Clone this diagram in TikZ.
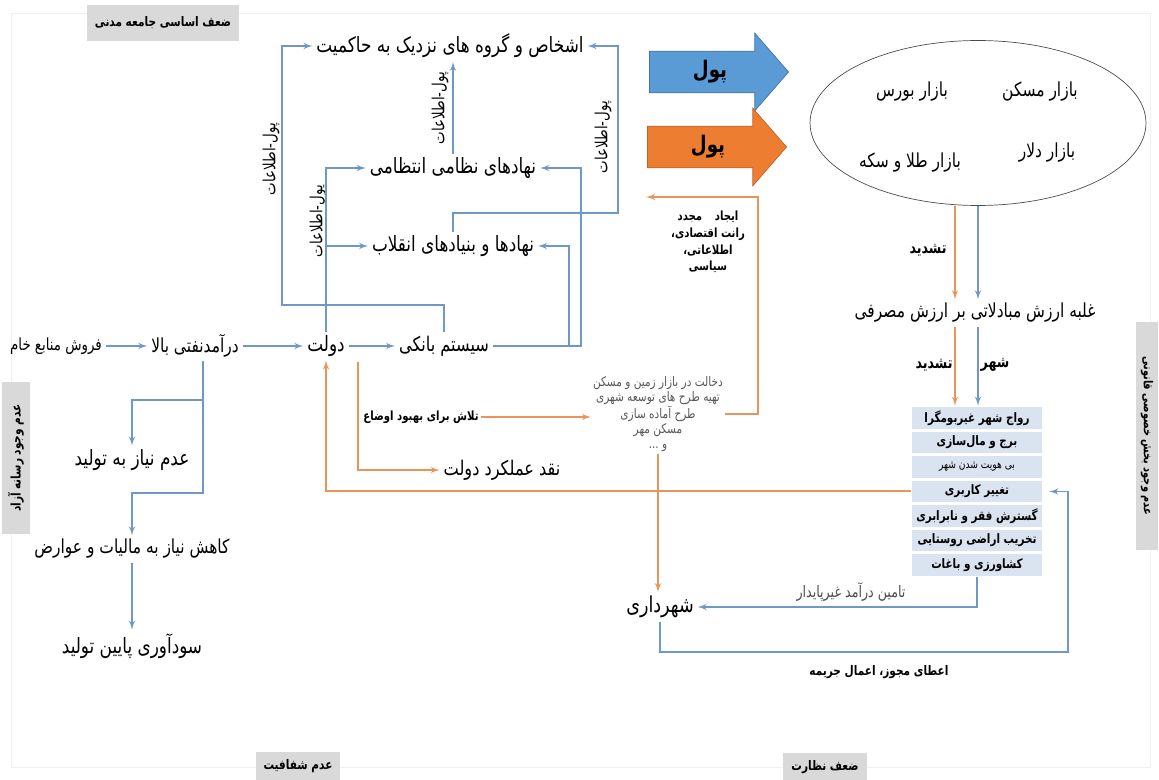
\documentclass[tikz,border=0pt]{standalone}
\usepackage{fontspec}
\newfontfamily\farsi[Script=Arabic, FakeStretch=0.8]{DejaVu Sans}
\TeXXeTstate=1
\usetikzlibrary{shapes,arrows,positioning}
\newcommand{\fa}[1]{{\farsi\beginR #1\endR}}
\newcommand{\pt}[1]{\fontsize{#1}{#1}\selectfont}
\definecolor{linkblue}{HTML}{7098C6}
\definecolor{linkorange}{HTML}{E8955C}
\definecolor{arrowblue}{HTML}{5B9BD5}
\definecolor{arroworange}{HTML}{ED7D31}
\definecolor{rowfill}{HTML}{DAE3F0}
\definecolor{tagfill}{HTML}{D9D9D9}

\begin{document}
\begin{tikzpicture}[x=0.02cm, y=-0.02cm]
        \tikzstyle{concept} = [font=\pt{12}, inner sep=2pt]
        \tikzstyle{note} = [font=\pt{7.5}, inner sep=1pt, align=center]
        \tikzstyle{side_tag} = [fill=tagfill, font=\pt{7.5}\bfseries, inner sep=1pt]
        \tikzstyle{via} = [font=\pt{9.5}, rotate=90, inner sep=1pt]
        \tikzstyle{money} = [single arrow, single arrow head extend=0.36cm, single arrow tip angle=98, minimum height=2.78cm, minimum width=1.46cm, inner ysep=0.18cm, font=\pt{13}\bfseries]
        \tikzstyle{city_row} = [fill=rowfill, draw=white, line width=0.8pt, minimum width=2.62cm, minimum height=0.462cm, inner sep=0pt, font=\pt{7.4}\bfseries]
        \tikzstyle{line} = [draw, -latex', linkblue, line width=0.8pt]
        \tikzstyle{line_orange} = [draw, -latex', linkorange, line width=0.8pt]

        \useasboundingbox (0,0) rectangle (1159,780);
        \draw [gray!12] (11,13) rectangle (1150,767);

        \node [side_tag, minimum width=3.04cm, minimum height=0.72cm] (tag_civil) at (163,23) {\fa{ضعف اساسی جامعه مدنی}};
        \node [side_tag, minimum width=1.7cm, minimum height=0.58cm] (tag_opacity) at (298,766) {\fa{عدم شفافیت}};
        \node [side_tag, minimum width=1.68cm, minimum height=0.56cm] (tag_control) at (825,767) {\fa{ضعف نظارت}};
        \node [side_tag, rotate=90, minimum width=3.06cm, minimum height=0.58cm] (tag_media) at (16,458) {\fa{عدم وجود رسانه آزاد}};
        \node [side_tag, rotate=-90, minimum width=4.56cm, minimum height=0.44cm, font=\pt{7}\bfseries] (tag_private) at (1147,436) {\fa{عدم وجود بخش خصوصی قانونی}};

        \node [concept, font=\pt{9.5}] (raw_sale) at (56,346) {\fa{فروش منابع خام}};
        \node [concept, font=\pt{11}] (oil_income) at (195,346) {\fa{درآمدنفتی بالا}};
        \node [concept] (state) at (326,346) {\fa{دولت}};
        \node [concept, font=\pt{11.5}] (bank_system) at (444,346) {\fa{سیستم بانکی}};
        \node [concept] (elite) at (450,46) {\fa{اشخاص و گروه های نزدیک به حاکمیت}};
        \node [concept] (military) at (453,168) {\fa{نهادهای نظامی انتظامی}};
        \node [concept] (revolution) at (453,246) {\fa{نهادها و بنیادهای انقلاب}};
        \node [concept] (no_production) at (132,460) {\fa{عدم نیاز به تولید}};
        \node [concept, font=\pt{11}] (low_tax) at (132,549) {\fa{کاهش نیاز به مالیات و عوارض}};
        \node [concept] (low_profit) at (132,646) {\fa{سودآوری پایین تولید}};
        \node [concept, font=\pt{11.5}] (critique) at (502,470) {\fa{نقد عملکرد دولت}};
        \node [concept, font=\pt{12.5}] (municipality) at (660,607) {\fa{شهرداری}};
        \node [concept, font=\pt{11}] (exchange_value) at (975,313) {\fa{غلبه ارزش مبادلاتی بر ارزش مصرفی}};

        \node [via] (via_left) at (271,159) {\fa{پول-اطلاعات}};
        \node [via] (via_mid) at (318,221) {\fa{پول-اطلاعات}};
        \node [via] (via_up) at (440,108) {\fa{پول-اطلاعات}};
        \node [via] (via_right) at (603,137) {\fa{پول-اطلاعات}};

        \node [draw=gray!60!black, ellipse, minimum width=6.72cm, minimum height=3.3cm] (markets) at (978,123) {};
        \node [concept, font=\pt{11}] (housing) at (1040,92) {\fa{بازار مسکن}};
        \node [concept, font=\pt{11}] (stock) at (912,92) {\fa{بازار بورس}};
        \node [concept, font=\pt{11}] (dollar) at (1047,153) {\fa{بازار دلار}};
        \node [concept, font=\pt{11}] (gold) at (910,163) {\fa{بازار طلا و سکه}};

        \node [money, fill=arrowblue, draw=arrowblue!75!black] (money_blue) at (710,72) {\fa{پول}};
        \node [money, fill=arroworange, draw=arroworange!80!black] (money_orange) at (708,147) {\fa{پول}};

        \node [note, font=\pt{7.2}\bfseries] (effort) at (421,417) {\fa{تلاش برای بهبود اوضاع}};
        \node [note, text=gray!70!black, font=\fontsize{7.5}{8.6}\selectfont] (intervention) at (658,414) {\fa{دخالت در بازار زمین و مسکن}\\ \fa{تهیه طرح های توسعه شهری}\\ \fa{طرح آماده سازی}\\ \fa{مسکن مهر}\\ \fa{و ...}};
        \node [note, font=\fontsize{7.2}{9.5}\selectfont\bfseries] (rent) at (708,242) {\fa{ایجاد\quad مجدد}\\ \fa{رانت اقتصادی،}\\ \fa{اطلاعاتی،}\\ \fa{سیاسی}};
        \node [note, font=\pt{9}\bfseries] (intensify_a) at (928,250) {\fa{تشدید}};
        \node [note, font=\pt{9}\bfseries] (intensify_b) at (934,365) {\fa{تشدید}};
        \node [note, font=\pt{9}\bfseries] (city) at (995,365) {\fa{شهر}};
        \node [note, text=gray!60!black, font=\pt{9}] (unstable) at (851,592) {\fa{تامین درآمد غیرپایدار}};
        \node [note, font=\pt{7.5}\bfseries] (permits) at (879,672) {\fa{اعطای مجوز، اعمال جریمه}};

        \node [city_row] (row_a) at (977,418) {\fa{رواج شهر غیربومگرا}};
        \node [city_row, below=0pt of row_a] (row_b) {\fa{برج و مال‌سازی}};
        \node [city_row, below=0pt of row_b, font=\pt{6.5}] (row_c) {\fa{بی هویت شدن شهر}};
        \node [city_row, below=0pt of row_c] (row_d) {\fa{تغییر کاربری}};
        \node [city_row, below=0pt of row_d] (row_e) {\fa{گسترش فقر و نابرابری}};
        \node [city_row, below=0pt of row_e] (row_f) {\fa{تخریب اراضی روستایی}};
        \node [city_row, below=0pt of row_f] (row_g) {\fa{کشاورزی و باغات}};

        \coordinate (elite_left) at (282,305);
        \coordinate (elite_right) at (618,213);
        \coordinate (military_bend) at (581,168);
        \coordinate (revolution_bend) at (569,246);
        \coordinate (rent_bend) at (758,197);
        \coordinate (rent_end) at (646,197);
        \coordinate (critique_start) at (358,362);
        \coordinate (production_branch) at (203,400);
        \coordinate (tax_branch) at (203,493);
        \coordinate (permit_bend) at (1068,652);

        \path [line] (raw_sale) -- (oil_income);
        \path [line] (oil_income) -- (state);
        \path [line] (state) -- (bank_system);
        \path [line] (bank_system.north) |- (elite_left) |- (elite.west);
        \path [line] (state.north) |- (military.west);
        \path [line] (state.north) |- (revolution.west);
        \path [line] (military.north) -- (military.north |- elite.south);
        \path [line] (bank_system.east) -| (military_bend) -- (military.east);
        \path [line] (bank_system.east) -| (revolution_bend) -- (revolution.east);
        \path [line] (revolution.north) |- (elite_right) |- (elite.east);
        \path [line] (oil_income.south -| production_branch) -- (production_branch) -| (no_production.north);
        \path [line] (oil_income.south -| tax_branch) -- (tax_branch) -| (low_tax.north);
        \path [line] (low_tax) -- (low_profit);

        \path [line_orange] (critique_start) |- (critique.west);
        \path [line_orange] (effort.east) -- (effort.east -| intervention.west);
        \path [line_orange] (intervention.east) -| (rent_bend) -- (rent_end);
        \path [line_orange] (intervention.south) -- (intervention.south |- municipality.north);
        \path [line_orange] ([yshift=0.01cm]row_d.west) -| (state.south);

        \path [line_orange] ([xshift=-0.46cm]markets.south) -- ([xshift=-0.46cm]markets.south |- exchange_value.north);
        \path [line] (markets.south) -- (markets.south |- exchange_value.north);
        \path [line_orange] ([xshift=-0.4cm]exchange_value.south) -- ([xshift=-0.4cm]exchange_value.south |- row_a.north);
        \path [line] ([xshift=0.06cm]exchange_value.south) -- ([xshift=0.06cm]exchange_value.south |- row_a.north);
        \path [line] (row_g.south) |- (municipality.east);
        \path [line, shorten >=0.12cm] (municipality.south) |- (permit_bend) |- (row_d.east);

    \end{tikzpicture}
\end{document}
